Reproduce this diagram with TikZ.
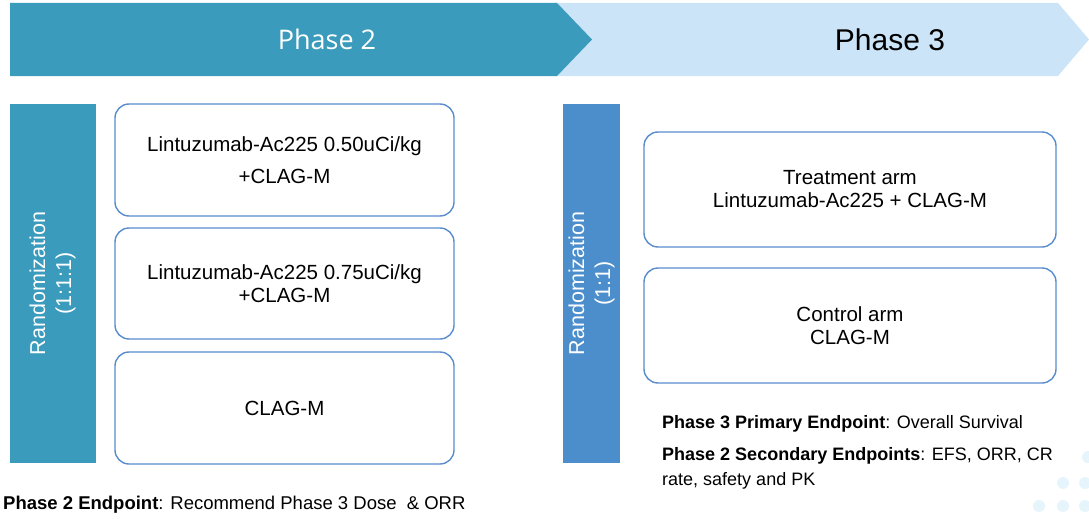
\documentclass[tikz,border=0pt]{standalone}
\usepackage{fontspec}
\setmainfont{Liberation Sans}
\newfontfamily\headfont{Open Sans}
\usepackage{tikz}
\usetikzlibrary{positioning}
\definecolor{tealbar}{RGB}{58,155,189}
\definecolor{paleblue}{RGB}{204,228,248}
\definecolor{bluebar}{RGB}{76,142,204}
\definecolor{armline}{RGB}{88,140,205}
\definecolor{dotblue}{RGB}{230,244,252}

\begin{document}
\begin{tikzpicture}[x=1pt,y=-1pt,
      every node/.style={font=\fontsize{20.5}{23}\selectfont},
      arm/.style={draw=armline,line width=1.4pt,rounded corners=14pt,fill=white,align=center},
      randbar/.style={rotate=90,text=white,align=center,inner sep=0pt,font=\fontsize{21.5}{26}\selectfont},
      note/.style={font=\fontsize{18}{25}\selectfont,inner sep=0pt}]
      \useasboundingbox (0,0) rectangle (1089,519);
      % phase banners
      \fill[paleblue] (555,3) -- (1058,3) -- (1089,39.5) -- (1058,76) -- (555,76) -- cycle;
      \fill[tealbar] (10,3) -- (557,3) -- (592,39.5) -- (557,76) -- (10,76) -- cycle;
      \node[text=white,font=\headfont\fontsize{27}{30}\selectfont] (ph2) at (327,39.5) {Phase 2};
      \node[font=\fontsize{30}{34}\selectfont] (ph3) at (890,39.5) {Phase 3};
      % phase 2
      \node[randbar,fill=tealbar,minimum width=359pt,minimum height=86pt] (rand2) at (52.5,283.5) {Randomization\\(1:1:1)};
      \node[arm,minimum width=339pt,minimum height=112pt] (dose50) at (284.5,160) {Lintuzumab-Ac225 0.50uCi/kg\\[9pt]+CLAG-M};
      \node[arm,minimum width=339pt,minimum height=111pt] (dose75) at (284.5,283.5) {Lintuzumab-Ac225 0.75uCi/kg\\+CLAG-M};
      \node[arm,minimum width=339pt,minimum height=112pt] (ctrl2) at (284.5,408) {CLAG-M};
      \node[note,font=\fontsize{18.5}{22}\selectfont,anchor=base west] (end2) at (3,509) {\textbf{Phase 2 Endpoint}: Recommend Phase 3 Dose \ \& ORR};
      % phase 3
      \node[randbar,fill=bluebar,minimum width=359pt,minimum height=57pt] (rand3) at (591.5,283.5) {Randomization\\(1:1)};
      \node[arm,minimum width=412pt,minimum height=115pt] (treat) at (850,189.5) {Treatment arm\\Lintuzumab-Ac225 + CLAG-M};
      \node[arm,minimum width=412pt,minimum height=115pt] (ctrl3) at (850,325.5) {Control arm\\CLAG-M};
      \node[note,anchor=base west] (prim) at (662,428) {\textbf{Phase 3 Primary Endpoint}: Overall Survival};
      \node[note,anchor=north west,align=left] (sec) at (662,447) {\textbf{Phase 2 Secondary Endpoints}: EFS, ORR, CR\\rate, safety and PK};
      % corner dots
      \foreach \x/\y in {1088/457,1063/483,1085/483,1039/506,1063/506,1085/506}
        \fill[dotblue] (\x,\y) circle (6pt);
    \end{tikzpicture}
\end{document}
